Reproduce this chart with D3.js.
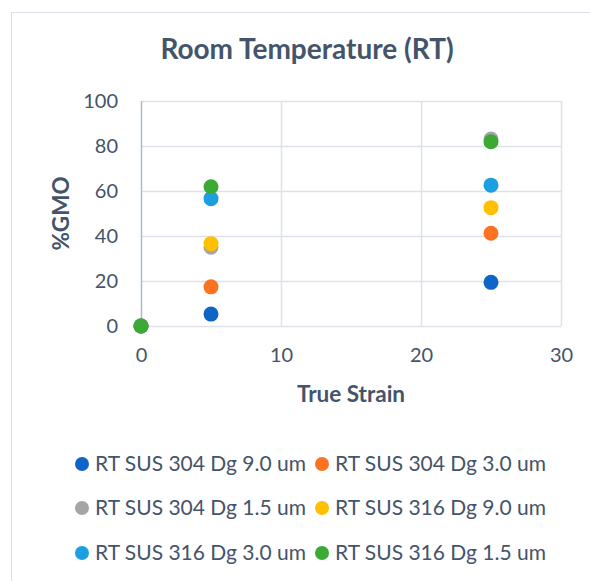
<!DOCTYPE html>
<html lang="en">
<head>
<meta charset="UTF-8">
<title>Room Temperature (RT)</title>
<script src="https://cdn.jsdelivr.net/npm/d3@7"></script>
<style>
  body { margin: 0; background: #fff; font-family: Lato, "Open Sans", sans-serif; }
</style>
</head>
<body>
<div id="chart"></div>
<script>
// data
const seriesNames = [
  "RT SUS 304 Dg 9.0 um", "RT SUS 304 Dg 3.0 um",
  "RT SUS 304 Dg 1.5 um", "RT SUS 316 Dg 9.0 um",
  "RT SUS 316 Dg 3.0 um", "RT SUS 316 Dg 1.5 um"
];
const strains = [0, 5, 25];
const gmo304_9 = [0, 5.3, 19.4];
const gmo304_3 = [0, 17.4, 41.2];
const gmo304_15 = [0, 35.0, 83.1];
const gmo316_9 = [0, 36.6, 52.6];
const gmo316_3 = [0, 56.6, 62.6];
const gmo316_15 = [0, 61.9, 81.9];
const xTicks = [0, 10, 20, 30];
const yTicks = [0, 20, 40, 60, 80, 100];

const colors = ["#0F64C8", "#FB7320", "#A5A5A5", "#FFC000", "#1C9FE0", "#3AAA35"];
const allValues = [gmo304_9, gmo304_3, gmo304_15, gmo316_9, gmo316_3, gmo316_15];

const W = 590, H = 581;
const textCol = "#44546A";

const svg = d3.select("#chart").append("svg")
  .attr("width", W).attr("height", H);

// chart frame
svg.append("rect")
  .attr("x", 11.5).attr("y", 12.5)
  .attr("width", W + 10).attr("height", H + 10)
  .attr("fill", "#fff").attr("stroke", "#D9DEE5");

const x = d3.scaleLinear().domain([0, 30]).range([141, 561]);
const y = d3.scaleLinear().domain([0, 100]).range([326, 101]);

// gridlines
svg.append("g").selectAll("line").data(yTicks).join("line")
  .attr("x1", x(0)).attr("x2", x(30))
  .attr("y1", d => y(d) + 0.5).attr("y2", d => y(d) + 0.5)
  .attr("stroke", "#DDE2E8").attr("stroke-width", 1.5);
svg.append("g").selectAll("line").data(xTicks.slice(1)).join("line")
  .attr("x1", d => x(d) + 0.5).attr("x2", d => x(d) + 0.5)
  .attr("y1", y(100)).attr("y2", y(0))
  .attr("stroke", "#DDE2E8").attr("stroke-width", 1.5);
// vertical axis line
svg.append("line")
  .attr("x1", x(0) + 0.5).attr("x2", x(0) + 0.5)
  .attr("y1", y(100)).attr("y2", y(0))
  .attr("stroke", "#AEB9C7").attr("stroke-width", 1.5);

// axes (labels only)
const yAxis = svg.append("g")
  .attr("transform", `translate(${x(0) - 23},0)`)
  .call(d3.axisLeft(y).tickValues(yTicks).tickSize(0).tickPadding(0));
const xAxis = svg.append("g")
  .attr("transform", `translate(0,${y(0) + 22})`)
  .call(d3.axisBottom(x).tickValues(xTicks).tickSize(0).tickPadding(0));
[xAxis, yAxis].forEach(a => {
  a.select(".domain").remove();
  a.selectAll("text")
    .attr("fill", textCol)
    .style("font-family", "Lato, 'Open Sans', sans-serif")
    .style("font-size", "20px");
});
xAxis.selectAll("text").attr("dy", "0.71em");

// title and axis titles
svg.append("text")
  .attr("x", 307).attr("y", 59)
  .attr("text-anchor", "middle")
  .attr("fill", textCol)
  .style("font-size", "28px").style("font-weight", "bold")
  .text("Room Temperature (RT)");
svg.append("text")
  .attr("x", 351).attr("y", 402)
  .attr("text-anchor", "middle")
  .attr("fill", textCol)
  .style("font-size", "22.5px").style("font-weight", "bold")
  .text("True Strain");
svg.append("text")
  .attr("transform", `translate(69,${y(50)}) rotate(-90)`)
  .attr("text-anchor", "middle")
  .attr("fill", textCol)
  .style("font-size", "22.5px").style("font-weight", "bold")
  .text("%GMO");

// points
allValues.forEach((vals, i) => {
  svg.append("g").selectAll("circle")
    .data(vals.map((v, j) => ({ x: strains[j], y: v })))
    .join("circle")
    .attr("cx", d => x(d.x)).attr("cy", d => y(d.y))
    .attr("r", 7.5)
    .attr("fill", colors[i]);
});

// legend
const legendCols = [82, 322];
const legendRows = [464, 508, 553];
const legend = svg.append("g");
seriesNames.forEach((name, i) => {
  const lx = legendCols[i % 2], ly = legendRows[Math.floor(i / 2)];
  legend.append("circle")
    .attr("cx", lx).attr("cy", ly).attr("r", 7)
    .attr("fill", colors[i]);
  legend.append("text")
    .attr("x", lx + 13).attr("y", ly).attr("dy", "0.35em")
    .attr("fill", textCol)
    .style("font-size", "21px")
    .text(name);
});
</script>
</body>
</html>
